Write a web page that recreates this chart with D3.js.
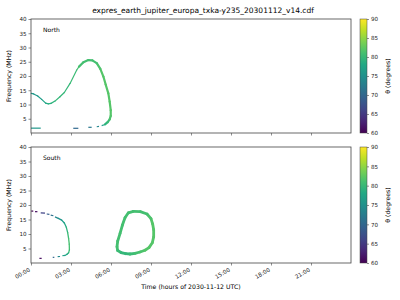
<!DOCTYPE html>
<html>
<head>
<meta charset="utf-8">
<script src="https://cdn.jsdelivr.net/npm/d3@7"></script>
<style>
  body { margin: 0; background: #fff; }
  svg { font-family: "DejaVu Sans", sans-serif; }
</style>
</head>
<body>
<script>
// tick values
var hourTicks = [0, 3, 6, 9, 12, 15, 18, 21];
var freqTicks = [5, 10, 15, 20, 25, 30, 35, 40];
var thetaTicks = [60, 65, 70, 75, 80, 85, 90];

// North: continuous curve [hour, MHz, theta], right branch then rising branch
var northRight = [
  [5.55, 3.0, 79], [5.75, 3.8, 80], [5.9, 4.8, 81], [5.98, 6.0, 82], [5.98, 8.0, 82],
  [5.9, 11.0, 82], [5.8, 13.9, 82], [5.6, 17.0, 82], [5.43, 19.8, 82], [5.2, 22.5, 82],
  [4.93, 24.5, 81], [4.6, 25.5, 81], [4.3, 25.6, 81], [3.93, 24.8, 81], [3.6, 23.3, 81]
];
var northLeft = [
  [3.6, 23.3, 81], [3.43, 22.1, 81], [2.93, 17.4, 80], [2.5, 14.2, 80], [2.17, 12.7, 80],
  [1.8, 11.2, 80], [1.5, 10.4, 79], [1.3, 10.2, 79], [1.1, 10.5, 78], [0.8, 11.8, 77],
  [0.5, 13.0, 76], [0.2, 13.7, 76], [0.02, 13.9, 76]
];
// North: short pieces [hour0, MHz0, hour1, MHz1, theta]
var northPieces = [
  [0.0, 1.7, 0.73, 1.7, 76], [3.17, 1.65, 3.55, 1.65, 70], [4.3, 2.0, 4.55, 2.0, 72],
  [4.93, 2.2, 5.1, 2.3, 74], [5.3, 2.6, 5.5, 2.9, 77]
];

// South: continuous arc [hour, MHz, theta]
var southCurve = [
  [2.05, 15.4, 75], [2.3, 14.8, 76], [2.5, 13.8, 77], [2.65, 12.3, 79], [2.75, 10.5, 80],
  [2.82, 8.5, 81], [2.87, 6.5, 81], [2.88, 4.5, 81], [2.82, 3.5, 80], [2.7, 3.0, 78],
  [2.55, 2.6, 77]
];
var southPieces = [
  [0.02, 17.9, 0.17, 17.9, 60], [0.3, 17.7, 0.48, 17.7, 61], [0.73, 17.3, 1.05, 17.2, 66],
  [1.18, 16.9, 1.38, 16.8, 69], [1.48, 16.5, 1.68, 16.3, 71], [1.8, 15.9, 2.05, 15.4, 74],
  [1.63, 1.95, 1.75, 1.95, 70], [2.0, 2.2, 2.18, 2.25, 74], [2.35, 2.5, 2.55, 2.6, 77],
  [0.63, 1.6, 0.8, 1.6, 61]
];
// South: closed loop [hour, MHz, theta]
var southLoop = [
  [7.67, 17.8, 81], [7.3, 17.3, 81], [7.05, 15.6, 81], [6.85, 13.0, 81], [6.68, 10.2, 81],
  [6.5, 7.5, 81], [6.45, 5.6, 81], [6.5, 4.3, 81], [6.75, 3.6, 80], [7.1, 3.2, 80],
  [7.43, 3.1, 80], [7.8, 3.3, 81], [8.18, 3.8, 81], [8.55, 4.4, 82], [8.85, 5.3, 82],
  [9.1, 7.0, 82], [9.2, 9.0, 82], [9.2, 11.5, 82], [9.12, 13.5, 82], [9.0, 15.3, 82],
  [8.7, 16.9, 81], [8.2, 17.7, 81], [7.67, 17.8, 81]
];

var W = 400, H = 300;
var svg = d3.select("body").append("svg").attr("width", W).attr("height", H);

var color = d3.scaleSequential(d3.interpolateViridis).domain([60, 90]);
var x = d3.scaleLinear().domain([0, 24]).range([31, 351]);

svg.append("text")
  .attr("x", 203).attr("y", 13)
  .attr("text-anchor", "middle")
  .attr("font-size", 7.5)
  .text("expres_earth_jupiter_europa_txka-y235_20301112_v14.cdf");

// gradient for colorbars
var grad = svg.append("defs").append("linearGradient")
  .attr("id", "vir").attr("x1", 0).attr("y1", 1).attr("x2", 0).attr("y2", 0);
d3.range(0, 1.0001, 0.1).forEach(function (t) {
  grad.append("stop").attr("offset", t).attr("stop-color", d3.interpolateViridis(t));
});

function panel(top, bottom, label, curves, pieces, showX) {
  var y = d3.scaleLinear().domain([0, 40]).range([bottom, top]);
  var g = svg.append("g");

  var pairs = function (pts) {
    var out = [];
    for (var i = 0; i < pts.length - 1; i++) {
      out.push([pts[i], pts[i + 1]]);
    }
    return out;
  };

  curves.forEach(function (c) {
    g.append("g").selectAll("line").data(pairs(c.pts)).enter().append("line")
      .attr("x1", function (d) { return x(d[0][0]); })
      .attr("y1", function (d) { return y(d[0][1]); })
      .attr("x2", function (d) { return x(d[1][0]); })
      .attr("y2", function (d) { return y(d[1][1]); })
      .attr("stroke", function (d) { return color((d[0][2] + d[1][2]) / 2); })
      .attr("stroke-width", c.w)
      .attr("stroke-linecap", "round");
  });

  g.append("g").selectAll("line").data(pieces).enter().append("line")
    .attr("x1", function (d) { return x(d[0]); })
    .attr("y1", function (d) { return y(d[1]); })
    .attr("x2", function (d) { return x(d[2]); })
    .attr("y2", function (d) { return y(d[3]); })
    .attr("stroke", function (d) { return color(d[4]); })
    .attr("stroke-width", 1.2);

  // frame
  g.append("rect")
    .attr("x", 31).attr("y", top).attr("width", 320).attr("height", bottom - top)
    .attr("fill", "none").attr("stroke", "#444").attr("stroke-width", 0.8);

  var ya = g.append("g").attr("transform", "translate(31,0)")
    .call(d3.axisLeft(y).tickValues(freqTicks).tickSize(2.5).tickPadding(2));
  ya.select(".domain").remove();
  ya.selectAll("text").attr("font-size", 5.6).attr("fill", "#222").attr("font-family", "DejaVu Sans");
  ya.selectAll("line").attr("stroke", "#444").attr("stroke-width", 0.6);

  var xa = g.append("g").attr("transform", "translate(0," + bottom + ")")
    .call(d3.axisBottom(x).tickValues(hourTicks).tickSize(2.5)
      .tickFormat(function (d) { return d3.format("02d")(d) + ":00"; }));
  xa.select(".domain").remove();
  xa.selectAll("line").attr("stroke", "#444").attr("stroke-width", 0.6);
  if (showX) {
    xa.selectAll("text")
      .attr("font-size", 5.6).attr("fill", "#222").attr("font-family", "DejaVu Sans")
      .attr("text-anchor", "end")
      .attr("dy", null).attr("y", 0)
      .attr("transform", "translate(-1,8) rotate(-30)");
  } else {
    xa.selectAll("text").remove();
  }

  g.append("text")
    .attr("x", 43).attr("y", top + 13)
    .attr("font-size", 6)
    .text(label);

  g.append("text")
    .attr("transform", "translate(11," + ((top + bottom) / 2) + ") rotate(-90)")
    .attr("text-anchor", "middle")
    .attr("font-size", 6.2)
    .text("Frequency (MHz)");

  // colorbar
  var cy = d3.scaleLinear().domain([60, 90]).range([bottom, top]);
  g.append("rect")
    .attr("x", 360).attr("y", top).attr("width", 7).attr("height", bottom - top)
    .attr("fill", "url(#vir)").attr("stroke", "#444").attr("stroke-width", 0.5);
  var ca = g.append("g").attr("transform", "translate(367,0)")
    .call(d3.axisRight(cy).tickValues(thetaTicks).tickSize(2).tickPadding(2));
  ca.select(".domain").remove();
  ca.selectAll("text").attr("font-size", 5.6).attr("fill", "#222").attr("font-family", "DejaVu Sans");
  ca.selectAll("line").attr("stroke", "#444").attr("stroke-width", 0.6);
  g.append("text")
    .attr("transform", "translate(390," + ((top + bottom) / 2) + ") rotate(-90)")
    .attr("text-anchor", "middle")
    .attr("font-size", 6.2)
    .text("θ (degrees)");
}

panel(19, 133, "North", [{ pts: northLeft, w: 1.2 }, { pts: northRight, w: 2.2 }], northPieces, false);
panel(147, 263, "South", [{ pts: southCurve, w: 1.3 }, { pts: southLoop, w: 2.8 }], southPieces, true);

svg.append("text")
  .attr("x", 191).attr("y", 289)
  .attr("text-anchor", "middle")
  .attr("font-size", 6.2)
  .text("Time (hours of 2030-11-12 UTC)");
</script>
</body>
</html>
